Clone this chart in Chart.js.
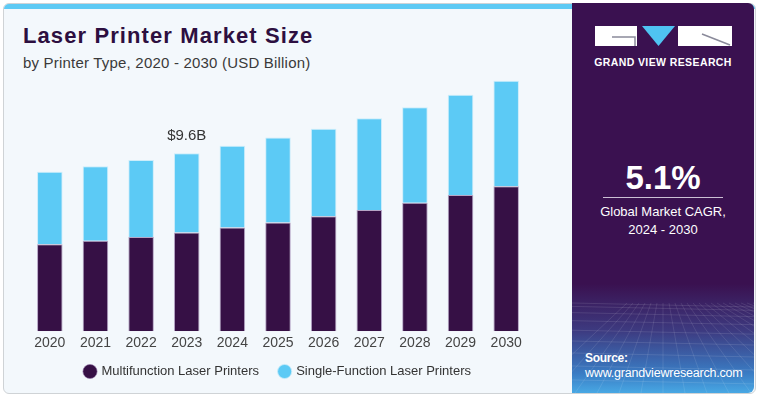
<!DOCTYPE html>
<html lang="en">
<head>
<meta charset="UTF-8">
<title>Laser Printer Market Size</title>
<script src="https://cdn.jsdelivr.net/npm/chart.js"></script>
<style>
  html, body { margin: 0; padding: 0; background: #ffffff; }
  body { width: 760px; height: 399px; position: relative; overflow: hidden; font-family: "Liberation Sans", Arial, sans-serif; }
  .card { position: absolute; left: 3px; top: 3px; width: 751px; height: 389px; background: #f3f8fc;
          border: 1px solid #cfd3d6; border-radius: 6px; overflow: hidden; }
  .strip { position: absolute; left: 0; top: 0; width: 100%; height: 5px; background: #5ecaf4; }
  h1 { position: absolute; left: 19px; top: 19px; margin: 0; font-size: 22px; font-weight: bold; color: #2d0f40; letter-spacing: 1.1px; }
  .sub { position: absolute; left: 19px; top: 50px; font-size: 15px; color: #3a3a3a; letter-spacing: 0.2px; }
  #wrap { position: absolute; left: 0; top: 0; width: 572px; height: 399px; }
  .panel { position: absolute; left: 572px; top: 3px; width: 182px; height: 390px; border-radius: 0 6px 6px 0; overflow: hidden;
           background: linear-gradient(to bottom, #3a1150 0%, #3a1150 72%, #3d3a80 84%, #3a7cc4 95%, #48a8e4 100%); }
  .panel .t { position: absolute; left: 0; width: 182px; text-align: center; color: #ffffff; }
</style>
</head>
<body>
<div class="card">
  <div class="strip"></div>
  <h1>Laser Printer Market Size</h1>
  <div class="sub">by Printer Type, 2020 - 2030 (USD Billion)</div>
</div>
<div id="wrap"><canvas id="chart" width="572" height="399"></canvas></div>
<div class="panel">
  <svg id="mesh" width="182" height="390" style="position:absolute;left:0;top:0"></svg>
  <svg width="182" height="60" style="position:absolute;left:0;top:0">
    <rect x="23" y="23" width="42" height="20" fill="#ffffff"/>
    <polyline points="40,34 63,34 63,43" fill="none" stroke="#8a8a9a" stroke-width="1.5"/>
    <polygon points="70,23 103,23 86.5,43" fill="#4fc3f2"/>
    <rect x="106" y="23" width="54" height="20" fill="#ffffff"/>
    <line x1="130" y1="31" x2="158" y2="42" stroke="#8a8a9a" stroke-width="1.5"/>
  </svg>
  <div class="t" style="top:53px;font-size:10.5px;font-weight:bold;letter-spacing:0.4px;">GRAND VIEW RESEARCH</div>
  <div class="t" style="top:156px;font-size:33px;font-weight:bold;">5.1%</div>
  <div style="position:absolute;left:31px;top:194px;width:120px;height:1px;background:#cbbfd4;"></div>
  <div class="t" style="top:201px;font-size:13px;">Global Market CAGR,</div>
  <div class="t" style="top:219px;font-size:13px;">2024 - 2030</div>
  <div style="position:absolute;left:13px;top:348px;font-size:12px;font-weight:bold;color:#fff;letter-spacing:-0.3px;">Source:</div>
  <div style="position:absolute;left:13px;top:363px;font-size:12.5px;color:#fff;letter-spacing:-0.2px;">www.grandviewresearch.com</div>
</div>

<script>
// data (USD Billion)
const years = ['2020', '2021', '2022', '2023', '2024', '2025', '2026', '2027', '2028', '2029', '2030'];
const multifunction = [4.70, 4.88, 5.09, 5.33, 5.60, 5.87, 6.21, 6.54, 6.93, 7.35, 7.83];
const singleFunction = [3.91, 4.03, 4.15, 4.27, 4.41, 4.59, 4.72, 4.95, 5.16, 5.42, 5.69];
const calloutYear = '2023';
const calloutText = '$9.6B';

// decorative mesh in the bottom of the side panel
const mesh = document.getElementById('mesh');
let lines = '';
for (let i = 0; i < 9; i++) {
  const y = 300 + Math.pow(i, 1.5) * 3.4;
  lines += `<line x1="0" y1="${y}" x2="182" y2="${y + 4}" stroke="#ffffff" stroke-opacity="0.14" stroke-width="0.8"/>`;
}
for (let i = -6; i < 16; i++) {
  const x0 = 91 + i * 6, x1 = 91 + i * 22;
  lines += `<line x1="${x0}" y1="300" x2="${x1}" y2="390" stroke="#ffffff" stroke-opacity="0.13" stroke-width="0.8"/>`;
}
mesh.innerHTML = lines;

const callout = {
  id: 'callout',
  afterDatasetsDraw(chart) {
    const idx = years.indexOf(calloutYear);
    const bar = chart.getDatasetMeta(1).data[idx];
    const c = chart.ctx;
    c.save();
    c.font = '15px "Liberation Sans", Arial, sans-serif';
    c.fillStyle = '#333333';
    c.textAlign = 'center';
    c.textBaseline = 'bottom';
    c.fillText(calloutText, bar.x, bar.y - 10);
    c.restore();
  }
};

const ctx = document.getElementById('chart').getContext('2d');
const chart = new Chart(ctx, {
  type: 'bar',
  data: {
    labels: years,
    datasets: [{
      label: 'Multifunction Laser Printers',
      data: multifunction,
      backgroundColor: '#361045',
      borderColor: 'rgba(140,110,160,0.6)',
      borderWidth: 1,
      categoryPercentage: 1,
      barPercentage: 0.56
    }, {
      label: 'Single-Function Laser Printers',
      data: singleFunction,
      backgroundColor: '#5ccaf5',
      borderColor: 'rgba(200,235,250,0.9)',
      borderWidth: 1,
      categoryPercentage: 1,
      barPercentage: 0.56
    }]
  },
  options: {
    responsive: false,
    animation: false,
    layout: { padding: { left: 27, right: 43, top: 62.6, bottom: 11 } },
    plugins: {
      tooltip: { enabled: false },
      legend: {
        position: 'bottom',
        labels: {
          usePointStyle: true,
          pointStyle: 'circle',
          boxWidth: 10,
          boxHeight: 10,
          padding: 17,
          color: '#333333',
          font: { size: 13, family: '"Liberation Sans", Arial, sans-serif' },
          generateLabels(chart) {
            const items = Chart.defaults.plugins.legend.labels.generateLabels(chart);
            items.forEach((it, i) => { if (i === 0) it.text = it.text + ' '; });
            return items;
          }
        }
      }
    },
    scales: {
      x: {
        stacked: true,
        grid: { display: false },
        border: { display: false },
        ticks: { color: '#444444', padding: -4, font: { size: 14, family: '"Liberation Sans", Arial, sans-serif' } }
      },
      y: {
        stacked: true,
        display: false,
        min: 0,
        max: 14.5
      }
    }
  },
  plugins: [callout]
});
</script>
</body>
</html>
